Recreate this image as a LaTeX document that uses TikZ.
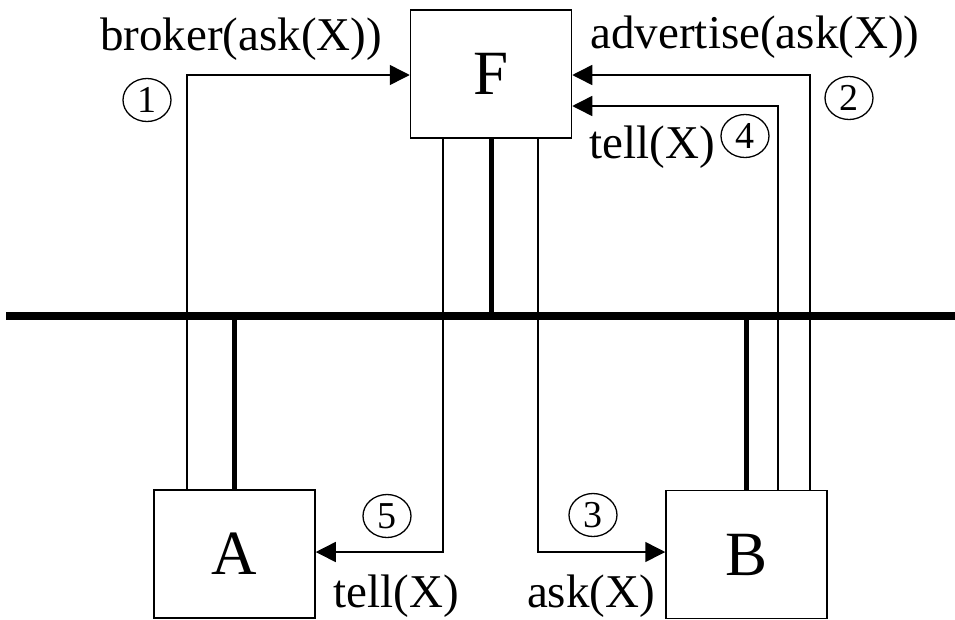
\documentclass[tikz,border=0pt]{standalone}
\usepackage{fontspec}
\setmainfont{Liberation Serif}
\usetikzlibrary{arrows.meta,shapes.geometric}

\tikzset{
  agent/.style={draw, line width=1.5pt, minimum width=161pt, minimum height=128pt,
                inner sep=0pt, font=\fontsize{63}{66}\selectfont},
  msg/.style={line width=1.5pt, -{Triangle[length=20pt,width=20pt]}},
  link/.style={line width=5pt},
  busline/.style={line width=7.5pt},
  lbl/.style={anchor=base, inner sep=0pt, font=\fontsize{47}{50}\selectfont},
  stepno/.style={draw, ellipse, line width=1.3pt, minimum width=48pt, minimum height=43pt,
                 inner sep=0pt, font=\fontsize{38}{40}\selectfont}
}

\begin{document}
\begin{tikzpicture}[x=1pt,y=-1pt]
  \useasboundingbox (0,0) rectangle (955,619);

  % agents
  \node[agent] (F) at (491,74) {F};
  \node[agent] (A) at (234.5,554) {A};
  \node[agent] (B) at (746.5,554.5) {B};

  % shared communication bus
  \coordinate (busL) at (6,316);
  \coordinate (busR) at (955,316);
  \draw[busline] (busL) -- (busR);

  % attachments to the bus
  \draw[link] (F.south) -- (F.south |- busL);
  \draw[link] (A.north) -- (A.north |- busL);
  \draw[link] (B.north) -- (B.north |- busL);

  % corner points of the message routes
  \coordinate (p1) at (187,75);
  \coordinate (p2) at (810,75);
  \coordinate (p4) at (778,106);
  \coordinate (p5) at (443,552);
  \coordinate (p3) at (538,552);

  % messages
  \draw[msg] (p1 |- A.north) -- (p1) -- (p1 -| F.west);
  \draw[msg] (p2 |- B.north) -- (p2) -- (p2 -| F.east);
  \draw[msg] (p4 |- B.north) -- (p4) -- (p4 -| F.east);
  \draw[msg] (p5 |- F.south) -- (p5) -- (p5 -| A.east);
  \draw[msg] (p3 |- F.south) -- (p3) -- (p3 -| B.west);

  % message labels
  \node[lbl] (l1) at (241,50) {broker(ask(X))};
  \node[lbl] (l2) at (755,48) {advertise(ask(X))};
  \node[lbl] (l4) at (652,158) {tell(X)};
  \node[lbl] (l5) at (396,607) {tell(X)};
  \node[lbl] (l3) at (591,607) {ask(X)};

  % step numbers
  \node[stepno] (s1) at (147,100) {1};
  \node[stepno] (s2) at (849,98) {2};
  \node[stepno] (s4) at (745,136) {4};
  \node[stepno] (s5) at (387,516) {5};
  \node[stepno] (s3) at (593,515) {3};
\end{tikzpicture}
\end{document}
